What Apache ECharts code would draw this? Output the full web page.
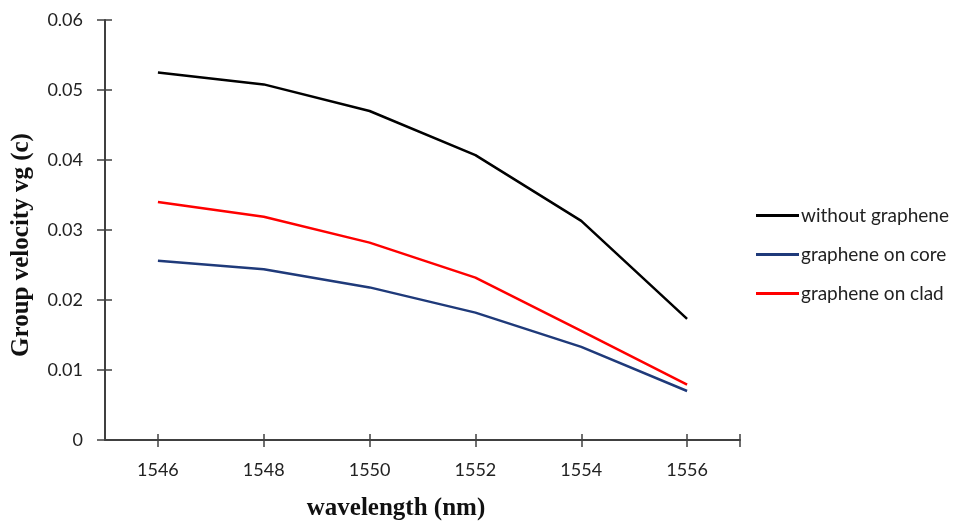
<!DOCTYPE html>
<html><head><meta charset="utf-8">
<script src="https://cdn.jsdelivr.net/npm/echarts@6/dist/echarts.min.js"></script>
<style>html,body{margin:0;padding:0;background:#fff}#c{width:962px;height:522px}</style>
</head><body><div id="c"></div>
<script>
var wavelengths = [1546, 1548, 1550, 1552, 1554, 1556];
var withoutGraphene = [0.0525, 0.0508, 0.0470, 0.0407, 0.0313, 0.0173];
var grapheneOnCore = [0.0256, 0.0244, 0.0218, 0.0182, 0.0133, 0.0070];
var grapheneOnClad = [0.0340, 0.0319, 0.0282, 0.0232, 0.0156, 0.0079];
var xTickValues = [1546, 1548, 1550, 1552, 1554, 1556, 1557];
var xLabelValues = [1546, 1548, 1550, 1552, 1554, 1556];
var seriesNames = ['without graphene', 'graphene on core', 'graphene on clad'];
var xTitle = 'wavelength (nm)';
var yTitle = 'Group velocity vg (c)';
var colors = ['#000000', '#1f3a7a', '#ff0000'];

function pairs(ys){ return wavelengths.map(function(x,i){ return [x, ys[i]]; }); }

var chart = echarts.init(document.getElementById('c'), null, {renderer:'canvas'});
var axisCol = '#404040';
var sans = 'Lato, "Open Sans", sans-serif';
var serif = '"Liberation Serif", "DejaVu Serif", serif';
chart.setOption({
  animation:false,
  grid:{left:105, right:222, top:20, bottom:82, outerBoundsMode:'none', containLabel:false},
  legend:{
    orient:'vertical', left:751, top:201, icon:'rect', itemWidth:43, itemHeight:3, itemGap:20,
    textStyle:{color:'#222', fontSize:19, fontFamily:sans, padding:[0,0,0,-3]},
    data:seriesNames
  },
  graphic:[
    {type:'text', x:396, y:509, style:{text:xTitle, font:'bold 25px ' + serif, fill:'#111', align:'center', verticalAlign:'middle'}},
    {type:'text', x:22, y:245, rotation:Math.PI/2, style:{text:yTitle, font:'bold 25px ' + serif, fill:'#111', align:'center', verticalAlign:'middle'}}
  ],
  xAxis:[{
    type:'value', min:1545, max:1557,
    axisLine:{onZero:false, lineStyle:{color:axisCol, width:2}},
    axisTick:{show:true, inside:false, length:7, customValues:xTickValues, lineStyle:{color:axisCol, width:1.5}},
    axisLabel:{customValues:xLabelValues, margin:21, color:'#222', fontSize:18, fontFamily:sans,
      formatter:function(v){ return String(v); }},
    splitLine:{show:false}
  },{
    type:'value', min:1545, max:1557, position:'bottom',
    axisLine:{show:false},
    axisTick:{show:true, inside:true, length:6, customValues:xTickValues, lineStyle:{color:axisCol, width:1.5}},
    axisLabel:{show:false}, splitLine:{show:false}
  }],
  yAxis:[{
    type:'value', min:0, max:0.06, interval:0.01,
    axisLine:{show:true, lineStyle:{color:axisCol, width:2}},
    axisTick:{show:true, inside:false, length:8, lineStyle:{color:axisCol, width:1.5}},
    axisLabel:{margin:22, color:'#222', fontSize:18, fontFamily:sans,
      formatter:function(v){ return v===0 ? '0' : v.toFixed(2); }},
    splitLine:{show:false}
  },{
    type:'value', min:0, max:0.06, interval:0.01, position:'left',
    axisLine:{show:false},
    axisTick:{show:true, inside:true, length:7, lineStyle:{color:axisCol, width:1.5}},
    axisLabel:{show:false}, splitLine:{show:false}
  }],
  series:[
    {name:seriesNames[0], type:'line', data:pairs(withoutGraphene), symbol:'none', lineStyle:{color:colors[0], width:2.5}, itemStyle:{color:colors[0]}},
    {name:seriesNames[1], type:'line', data:pairs(grapheneOnCore), symbol:'none', lineStyle:{color:colors[1], width:2.5}, itemStyle:{color:colors[1]}},
    {name:seriesNames[2], type:'line', data:pairs(grapheneOnClad), symbol:'none', lineStyle:{color:colors[2], width:2.5}, itemStyle:{color:colors[2]}}
  ]
});
</script></body></html>
